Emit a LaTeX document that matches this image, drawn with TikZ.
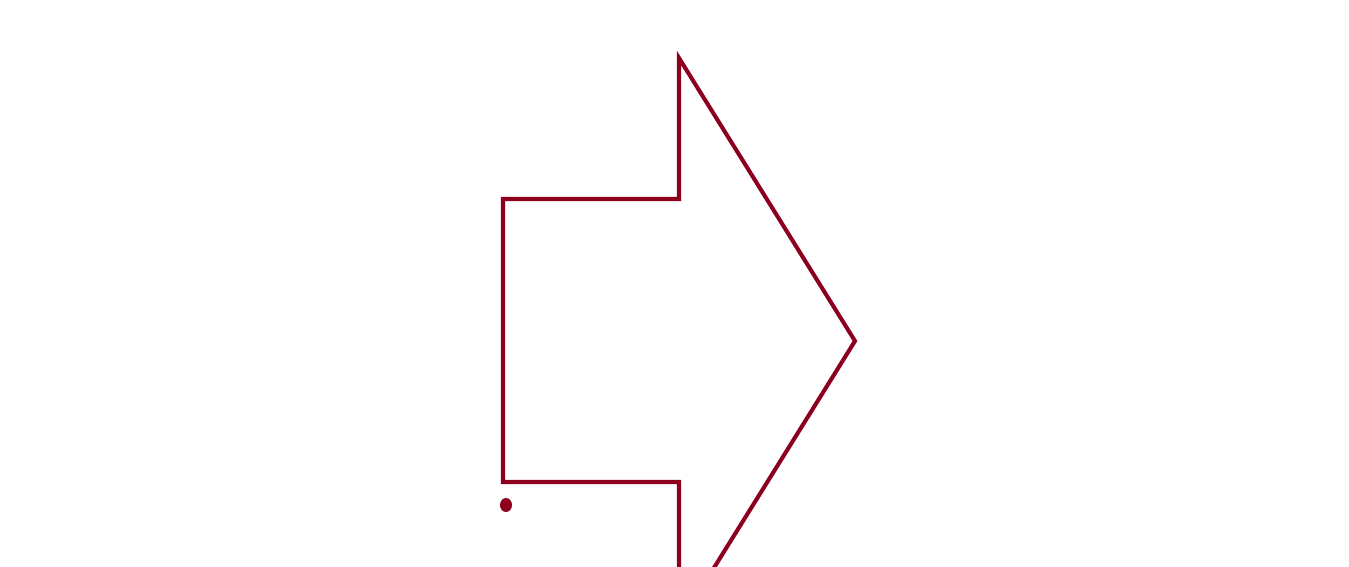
\documentclass[tikz,border=0pt]{standalone}
\usepackage{tikz}
\usepackage{xcolor}
\definecolor{arrowred}{RGB}{140,0,30}

\begin{document}
\begin{tikzpicture}[x=0.02cm,y=-0.02cm,line join=miter,outline/.style={draw=arrowred,line width=2.3pt}]
      \useasboundingbox (0,0) rectangle (1349,566);
      \clip (0,0) rectangle (1349,566);
      \coordinate (tl) at (503,199);
      \coordinate (bl) at (503,482);
      \coordinate (nt) at (679,199);
      \coordinate (nb) at (679,482);
      \coordinate (ht) at (679,58);
      \coordinate (hb) at (679,624);
      \coordinate (tip) at (855,341);

      \path[outline] (hb) -- (nb) -- (bl) -- (tl) -- (nt) -- (ht) -- (tip) -- (hb);
      \fill[arrowred] (506,505) ellipse [x radius=0.12cm, y radius=0.14cm];
    \end{tikzpicture}
\end{document}
